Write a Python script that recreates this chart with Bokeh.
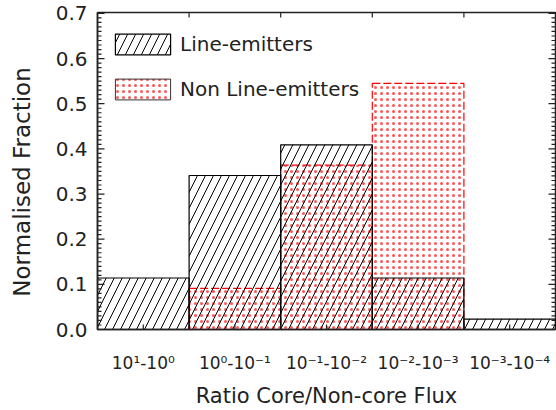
from bokeh.plotting import figure
from bokeh.models import (Range1d, FixedTicker, Legend, LegendItem, ColumnDataSource,
                          CDSView, IndexFilter)
from bokeh.embed import file_html
from bokeh.resources import INLINE

# ---------------- data ----------------
categories = ["10\u00b9-10\u2070", "10\u2070-10\u207b\u00b9", "10\u207b\u00b9-10\u207b\u00b2",
              "10\u207b\u00b2-10\u207b\u00b3", "10\u207b\u00b3-10\u207b\u2074"]
bin_left = [0, 1, 2, 3, 4]
bin_right = [1, 2, 3, 4, 5]
line_emitters = [0.114, 0.341, 0.409, 0.114, 0.023]
non_line_emitters = [0.0, 0.091, 0.364, 0.545, 0.0]

y_ticks = [0, 0.1, 0.2, 0.3, 0.4, 0.5, 0.6, 0.7]
y_tick_labels = ["0.0", "0.1", "0.2", "0.3", "0.4", "0.5", "0.6", "0.7"]
y_minor = [round(0.01 * i, 2) for i in range(71) if i % 10 != 0]
x_label_ticks = [0.5, 1.5, 2.5, 3.5, 4.5]
x_edge_ticks = [1, 2, 3, 4]

X_MAX = 5
Y_MAX = 0.702

# ---------------- layout ----------------
W, H = 556, 410
B_LEFT, B_RIGHT, B_TOP, B_BOTTOM = 97, 1, 12, 79
FRAME_W = W - B_LEFT - B_RIGHT
FRAME_H = H - B_TOP - B_BOTTOM
DX = X_MAX / FRAME_W      # data units per pixel
DY = Y_MAX / FRAME_H

FONT = "DejaVu Sans"
INK = "#222222"
DOT_RED = "#ff2a2a"

# legend geometry (screen px)
LEG_PAD, LEG_GLYPH_H, LEG_SPACING = 4, 26, 19
LEG_H = 2 * LEG_PAD + 2 * LEG_GLYPH_H + LEG_SPACING
LEG_TOP_OFFSET = 13          # from frame top
LEG_LEFT_OFFSET = 11         # from frame left

p = figure(width=W, height=H, output_backend="svg", toolbar_location=None,
           x_range=Range1d(0, X_MAX), y_range=Range1d(0, Y_MAX),
           min_border_left=B_LEFT, min_border_right=B_RIGHT,
           min_border_top=B_TOP, min_border_bottom=B_BOTTOM,
           x_axis_label="Ratio Core/Non-core Flux",
           y_axis_label="Normalised Fraction\u00a0\u00a0\u00a0")
p.grid.visible = False
p.outline_line_color = INK
p.outline_line_width = 1.5
p.background_fill_color = "white"

src = ColumnDataSource(dict(left=bin_left, right=bin_right,
                            le=line_emitters, nle=non_line_emitters))

r_nle = p.quad(left="left", right="right", bottom=0, top="nle", source=src,
               fill_color=None, line_color="#ff0000", line_dash="8 3", line_width=1.2,
               hatch_pattern=".", hatch_color=DOT_RED, hatch_alpha=0.8,
               hatch_scale=6, hatch_weight=1)

r_le = p.quad(left="left", right="right", bottom=0, top="le", source=src,
              fill_color=None, line_color="black", line_width=1.2,
              hatch_pattern="/", hatch_color="black", hatch_scale=16, hatch_weight=1)

# legend key for the dotted series with a dark frame (as in the reference key);
# it only shows the empty bins, which lie on the x axis line
r_nle_key = p.quad(left="left", right="right", bottom=0, top="nle", source=src,
                   view=CDSView(filter=IndexFilter(indices=[0, 4])),
                   fill_color=None, line_color="#333333", line_width=1,
                   hatch_pattern=".", hatch_color=DOT_RED, hatch_alpha=0.8,
                   hatch_scale=6, hatch_weight=1)

legend = Legend(items=[LegendItem(label="Line-emitters", renderers=[r_le], index=0),
                       LegendItem(label="Non Line-emitters", renderers=[r_nle_key], index=0)],
                location=(LEG_LEFT_OFFSET, FRAME_H - LEG_TOP_OFFSET - LEG_H),
                margin=0, padding=LEG_PAD, spacing=LEG_SPACING,
                glyph_width=69, glyph_height=LEG_GLYPH_H, label_height=LEG_GLYPH_H,
                label_standoff=3,
                label_text_font=FONT, label_text_font_size="20px", label_text_color=INK,
                background_fill_alpha=0, border_line_color=None)
p.add_layout(legend)

# inward tick marks on all four frame edges
tick_kw = dict(line_color=INK, line_width=1.2)
n_maj, n_min = len(y_ticks), len(y_minor)
p.segment(x0=[0] * n_maj, y0=y_ticks, x1=[7 * DX] * n_maj, y1=y_ticks, **tick_kw)
p.segment(x0=[0] * n_min, y0=y_minor, x1=[4 * DX] * n_min, y1=y_minor, **tick_kw)
p.segment(x0=[X_MAX] * n_maj, y0=y_ticks, x1=[X_MAX - 7 * DX] * n_maj, y1=y_ticks, **tick_kw)
p.segment(x0=[X_MAX] * n_min, y0=y_minor, x1=[X_MAX - 4 * DX] * n_min, y1=y_minor, **tick_kw)
bottom_ticks = x_label_ticks + x_edge_ticks
p.segment(x0=bottom_ticks, y0=[0] * len(bottom_ticks), x1=bottom_ticks,
          y1=[5 * DY] * len(bottom_ticks), **tick_kw)
p.segment(x0=x_edge_ticks, y0=[Y_MAX] * len(x_edge_ticks), x1=x_edge_ticks,
          y1=[Y_MAX - 5 * DY] * len(x_edge_ticks), **tick_kw)

def style_axis(ax):
    ax.axis_line_color = INK
    ax.axis_line_width = 1.5
    ax.major_tick_in = 0
    ax.major_tick_out = 0
    ax.minor_tick_in = 0
    ax.minor_tick_out = 0
    ax.major_tick_line_color = None
    ax.minor_tick_line_color = None

# bottom axis
xa = p.xaxis[0]
style_axis(xa)
xa.ticker = FixedTicker(ticks=x_label_ticks, minor_ticks=[])
xa.major_label_overrides = {t: c for t, c in zip(x_label_ticks, categories)}
xa.major_label_text_font = FONT
xa.major_label_text_font_size = "17px"
xa.major_label_text_color = INK
xa.major_label_standoff = 23
xa.axis_label_standoff = 8
xa.axis_label_text_font = FONT
xa.axis_label_text_font_size = "21px"
xa.axis_label_text_font_style = "normal"
xa.axis_label_text_color = INK

# left axis
ya = p.yaxis[0]
style_axis(ya)
ya.ticker = FixedTicker(ticks=y_ticks, minor_ticks=[])
ya.major_label_overrides = {(0 if t == 0 else t): s for t, s in zip(y_ticks, y_tick_labels)}
ya.major_label_text_font = FONT
ya.major_label_text_font_size = "20px"
ya.major_label_text_color = INK
ya.major_label_standoff = 10
ya.axis_label_standoff = 18
ya.axis_label_text_font = FONT
ya.axis_label_text_font_size = "23px"
ya.axis_label_text_font_style = "normal"
ya.axis_label_text_color = INK

open("out.html", "w").write(file_html(p, INLINE))
